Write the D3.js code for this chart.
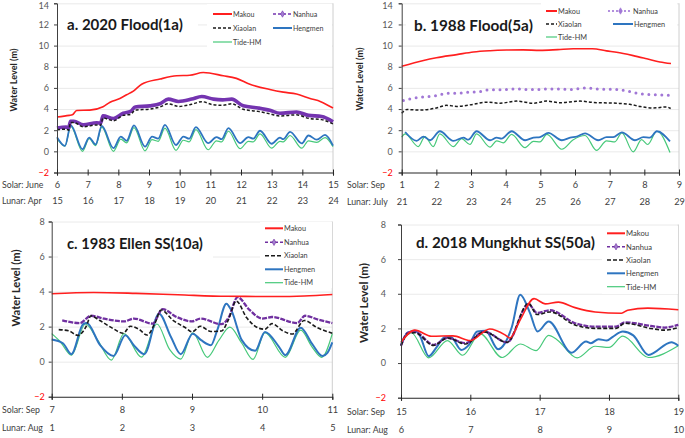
<!DOCTYPE html>
<html><head><meta charset="utf-8">
<script src="https://cdn.jsdelivr.net/npm/d3@7"></script>
<style>body{margin:0;background:#fff}svg{display:block}</style>
</head><body>
<svg id="chart" width="685" height="438"></svg>
<script>
// ---------- DATA ----------
const seriesNames = ["Makou","Nanhua","Xiaolan","Hengmen","Tide-HM"];

const a_solar = [6,7,8,9,10,11,12,13,14,15];
const a_lunar = [15,16,17,18,19,20,21,22,23,24];
const b_solar = [1,2,3,4,5,6,7,8,9];
const b_lunar = [21,22,23,24,25,26,27,28,29];
const c_solar = [7,8,9,10,11];
const c_lunar = [1,2,3,4,5];
const d_solar = [15,16,17,18,19];
const d_lunar = [6,7,8,9,10];
const ab_yticks = [-2,0,2,4,6,8,10,12,14];
const cd_yticks = [-2,0,2,4,6,8];

// Panel a: 2020 Flood — [day, water level m]
const a_makou = [[6.0,3.25],[6.4,3.4],[6.5,3.45],[6.64,3.86],[7.07,3.9],[7.5,4.22],[7.73,4.65],[8.05,5.0],[8.27,5.35],[8.49,5.7],[8.76,6.35],[9.36,6.84],[9.9,7.15],[10.33,7.2],[10.77,7.45],[11.42,7.15],[11.85,6.9],[12.29,6.35],[12.94,5.85],[13.38,5.6],[13.81,5.42],[14.25,5.0],[14.6,4.7],[15.0,4.1]];
const a_nanhua = [[6.0,2.2],[6.3,2.3],[6.38,2.2],[6.44,2.85],[6.55,2.85],[6.86,2.5],[7.3,2.7],[7.42,2.65],[7.5,3.35],[7.84,3.1],[8.16,3.6],[8.4,3.77],[8.55,4.2],[9.03,4.3],[9.36,4.5],[9.63,4.94],[9.96,4.72],[10.39,4.94],[10.72,5.19],[11.1,4.94],[11.4,4.87],[11.7,4.94],[12.07,4.31],[12.56,4.1],[12.94,3.88],[13.27,3.6],[13.81,3.72],[14.2,3.4],[14.63,3.3],[15.0,2.8]];
const a_xiaolan = [[6.0,2.05],[6.3,2.1],[6.38,2.0],[6.44,2.72],[6.55,2.72],[6.86,2.32],[7.3,2.5],[7.42,2.45],[7.5,3.15],[7.84,2.9],[8.16,3.4],[8.4,3.5],[8.55,3.9],[9.03,4.0],[9.36,4.2],[9.63,4.5],[9.96,4.25],[10.39,4.45],[10.72,4.7],[11.1,4.4],[11.4,4.35],[11.7,4.5],[12.07,3.98],[12.56,3.78],[12.94,3.55],[13.27,3.35],[13.81,3.45],[14.2,3.12],[14.63,3.0],[15.0,2.6]];
const a_hengmen = [[6.0,1.34],[6.26,0.52],[6.45,2.45],[6.83,0.2],[7.05,1.3],[7.26,0.65],[7.46,2.4],[7.84,0.3],[8.08,1.4],[8.27,1.0],[8.51,2.45],[8.87,0.45],[9.1,1.4],[9.3,1.2],[9.52,2.5],[9.88,0.6],[10.12,1.4],[10.31,1.2],[10.53,2.3],[10.93,0.78],[11.2,1.35],[11.37,1.15],[11.59,2.2],[11.97,0.78],[12.24,1.35],[12.4,1.2],[12.62,1.95],[13.0,0.72],[13.27,1.3],[13.38,1.15],[13.6,1.85],[13.98,0.75],[14.2,1.5],[14.47,1.1],[14.74,1.55],[15.0,0.55]];
const a_tide = [[6.0,1.2],[6.26,0.5],[6.45,2.35],[6.83,0.0],[7.05,1.2],[7.26,0.55],[7.46,2.3],[7.84,0.0],[8.08,1.15],[8.27,0.8],[8.51,2.25],[8.87,0.05],[9.1,1.1],[9.3,0.95],[9.52,2.2],[9.88,0.1],[10.12,1.05],[10.31,0.9],[10.53,2.05],[10.93,0.15],[11.2,1.0],[11.37,0.9],[11.59,1.9],[11.97,0.25],[12.24,0.95],[12.4,0.9],[12.62,1.65],[13.0,0.3],[13.27,0.95],[13.38,0.9],[13.6,1.5],[13.98,0.3],[14.2,1.0],[14.47,0.85],[14.74,1.3],[15.0,0.45]];

// Panel b: 1988 Flood
const b_makou = [[1.0,8.05],[1.63,8.6],[2.0,8.85],[2.59,9.15],[3.07,9.4],[3.55,9.52],[4.03,9.58],[4.5,9.6],[4.99,9.55],[5.5,9.62],[5.95,9.7],[6.5,9.7],[6.91,9.5],[7.39,9.25],[7.68,9.05],[8.07,8.75],[8.45,8.45],[8.77,8.3]];
const b_nanhua = [[1.05,4.8],[1.3,5.0],[1.63,5.15],[2.06,5.3],[2.3,5.5],[2.59,5.5],[2.97,5.6],[3.25,5.65],[3.45,5.8],[4.03,5.85],[4.32,5.92],[4.6,5.85],[4.9,5.85],[5.2,5.9],[5.5,5.9],[5.86,5.85],[6.34,6.0],[6.7,5.88],[7.2,5.85],[7.5,5.7],[7.87,5.45],[8.3,5.35],[8.7,5.3]];
const b_xiaolan = [[1.0,3.6],[1.15,3.95],[1.53,3.9],[2.0,4.1],[2.3,4.35],[2.59,4.25],[3.07,4.45],[3.45,4.65],[3.84,4.55],[4.32,4.75],[4.8,4.55],[5.18,4.75],[5.56,4.6],[6.14,4.75],[6.53,4.62],[7.2,4.55],[7.58,4.45],[7.87,4.25],[8.26,4.1],[8.64,4.2],[8.76,4.05]];
const b_hengmen = [[1.1,1.83],[1.43,1.0],[1.63,1.4],[1.82,1.05],[2.1,1.9],[2.49,1.0],[2.78,1.3],[2.92,1.1],[3.16,1.9],[3.55,1.05],[3.74,1.3],[3.88,1.2],[4.17,1.9],[4.56,1.05],[4.8,1.3],[4.99,1.35],[5.23,1.75],[5.62,1.05],[5.86,1.3],[6.05,1.4],[6.29,1.7],[6.67,1.05],[6.91,1.35],[7.1,1.35],[7.35,1.8],[7.73,1.05],[7.97,1.35],[8.16,1.3],[8.36,1.9],[8.74,0.95]];
const b_tide = [[1.0,1.35],[1.1,1.65],[1.48,0.45],[1.67,1.4],[1.91,0.45],[2.1,1.65],[2.49,0.45],[2.73,1.2],[2.97,0.65],[3.16,1.65],[3.55,0.4],[3.74,1.0],[3.93,0.8],[4.17,1.6],[4.56,0.35],[4.8,0.95],[4.99,0.9],[5.19,1.6],[5.62,0.2],[5.95,1.1],[6.29,1.5],[6.62,0.1],[6.91,1.0],[7.15,0.9],[7.35,1.75],[7.68,-0.05],[7.92,1.1],[8.1,0.65],[8.36,1.9],[8.74,-0.1]];

// Panel c: 1983 Ellen SS
const c_makou = [[7.0,3.88],[7.6,3.95],[8.2,3.9],[8.8,3.82],[9.5,3.73],[10.2,3.72],[10.6,3.75],[11.0,3.83]];
const c_nanhua = [[7.15,2.36],[7.4,2.2],[7.56,2.62],[7.75,2.45],[8.03,2.3],[8.17,2.46],[8.44,2.17],[8.58,3.0],[8.78,2.55],[9.0,2.3],[9.12,2.46],[9.42,2.14],[9.52,2.5],[9.65,3.68],[9.82,2.95],[10.0,2.46],[10.14,2.55],[10.5,2.2],[10.61,2.62],[10.8,2.4],[11.0,2.2]];
const c_xiaolan = [[7.1,1.83],[7.25,1.75],[7.37,1.5],[7.49,2.0],[7.56,2.62],[7.68,2.36],[7.87,1.9],[8.02,1.62],[8.12,2.02],[8.25,1.83],[8.36,1.52],[8.47,2.18],[8.56,2.95],[8.73,2.36],[8.92,1.9],[9.0,1.7],[9.12,2.02],[9.27,1.72],[9.42,1.75],[9.52,2.4],[9.63,3.46],[9.78,2.5],[9.96,1.9],[10.04,1.85],[10.14,2.17],[10.3,1.75],[10.43,1.58],[10.6,2.35],[10.78,1.95],[11.0,1.62]];
const c_hengmen = [[7.0,1.26],[7.16,1.05],[7.28,0.43],[7.45,2.15],[7.5,2.2],[7.69,0.94],[7.88,0.32],[8.05,1.51],[8.17,0.94],[8.32,0.43],[8.53,2.74],[8.7,1.41],[8.84,0.43],[9.01,1.6],[9.13,1.23],[9.27,0.94],[9.36,1.8],[9.49,3.31],[9.56,2.93],[9.71,1.23],[9.9,0.62],[10.04,1.7],[10.24,0.85],[10.33,0.37],[10.55,1.94],[10.71,1.03],[10.86,0.32],[10.93,0.5],[11.0,1.1]];
const c_tide = [[7.0,1.6],[7.12,1.15],[7.28,0.37],[7.48,2.15],[7.66,1.2],[7.85,0.09],[8.03,1.6],[8.28,0.26],[8.5,2.15],[8.68,0.7],[8.84,0.15],[9.01,1.65],[9.22,0.25],[9.38,1.2],[9.54,1.97],[9.71,1.05],[9.87,0.13],[10.04,1.65],[10.33,0.25],[10.55,1.8],[10.71,0.85],[10.85,0.25],[11.0,1.6]];

// Panel d: 2018 Mungkhut SS
const d_makou = [[15.0,1.2],[15.2,1.9],[15.44,1.55],[15.75,1.57],[16.0,1.3],[16.28,1.97],[16.5,1.63],[16.57,1.45],[16.72,2.5],[16.92,3.72],[17.08,3.42],[17.27,3.52],[17.51,3.2],[17.8,2.95],[18.18,2.88],[18.27,3.05],[18.56,3.17],[19.0,3.08]];
const d_nanhua = [[15.0,1.0],[15.1,1.76],[15.2,1.8],[15.47,1.05],[15.67,1.45],[15.93,1.15],[16.2,1.82],[16.53,1.2],[16.84,3.4],[16.96,2.9],[17.15,3.05],[17.51,2.3],[17.8,2.1],[18.1,2.1],[18.23,2.35],[18.6,2.15],[18.8,2.05],[19.0,2.2]];
const d_xiaolan = [[15.0,1.0],[15.1,1.7],[15.2,1.75],[15.47,1.02],[15.67,1.45],[15.93,1.1],[16.2,1.8],[16.53,1.2],[16.84,3.45],[16.96,2.8],[17.15,2.95],[17.51,2.2],[17.8,2.0],[18.1,2.0],[18.23,2.3],[18.6,2.0],[18.8,1.9],[19.0,2.05]];
const d_hengmen = [[15.0,1.05],[15.1,1.76],[15.2,1.86],[15.27,1.6],[15.4,0.4],[15.52,0.95],[15.63,1.49],[15.72,1.5],[15.87,0.76],[15.98,1.05],[16.1,1.82],[16.22,1.86],[16.4,0.8],[16.5,1.15],[16.6,2.1],[16.72,3.95],[16.86,2.9],[16.97,1.82],[17.13,2.4],[17.46,0.6],[17.67,1.24],[17.74,1.15],[17.85,1.38],[17.97,1.3],[18.05,1.5],[18.2,1.82],[18.35,1.6],[18.57,0.47],[18.9,1.2],[19.0,1.0]];
const d_tide = [[15.0,1.15],[15.15,1.75],[15.4,0.3],[15.67,1.3],[15.89,0.45],[16.14,1.7],[16.46,0.32],[16.72,1.1],[16.95,0.72],[17.13,1.6],[17.25,1.35],[17.54,0.3],[17.8,0.97],[18.0,0.9],[18.2,1.55],[18.57,0.32],[19.0,1.0]];

// ---------- LAYOUT / STYLE ----------
const FONT = "Lato, 'Open Sans', sans-serif";
const svg = d3.select("#chart");

function fitSize(str, weight, targetW){
  const t = svg.append("text").attr("font-family",FONT).attr("font-weight",weight).attr("font-size",100).text(str);
  const w = t.node().getComputedTextLength(); t.remove();
  return 100*targetW/w;
}
const fsTick = fitSize("10","normal",10.5);
const fsRow = fitSize("Solar: Sep","normal",38);

const panels = [
 {L:57, R:333, T:3.3, B:172.5, xd:[6,15], yd:[-2,14], yt:ab_yticks, solar:a_solar, lunar:a_lunar,
  solarName:"Solar: June", lunarName:"Lunar: Apr", rowX:2, solarY:188, lunarY:204, tickPad:5,
  title:"a. 2020 Flood(1a)", tX:67, tY:30, tW:116, tBox:[58,8,140,30],
  yl:{x:13,y:80,w:63}, nanhua:"a",
  data:[a_makou,a_nanhua,a_xiaolan,a_hengmen,a_tide],
  leg:{box:[207,4,125,46], fs:21.5, items:[[213,14,19],[273,14,19],[213,28,19],[273,28,19],[213,42,19]]}},
 {L:401.7, R:679, T:3.3, B:172.5, xd:[1,9], yd:[-2,14], yt:ab_yticks, solar:b_solar, lunar:b_lunar,
  solarName:"Solar: Sep", lunarName:"Lunar: July", rowX:347, solarY:188, lunarY:205, tickPad:6,
  title:"b. 1988 Flood(5a)", tX:414, tY:31, tW:119, tBox:[406,8,140,31],
  yl:{x:359,y:79,w:63}, nanhua:"b",
  data:[b_makou,b_nanhua,b_xiaolan,b_hengmen,b_tide],
  leg:{box:[541,2,136,42], fs:22, items:[[546,11,11],[609,11,23],[546,24,11],[613,24,20],[546,37,11]]}},
 {L:51.7, R:332.3, T:221.5, B:396.7, xd:[7,11], yd:[-2,8], yt:cd_yticks, solar:c_solar, lunar:c_lunar,
  solarName:"Solar: Sep", lunarName:"Lunar: Aug", rowX:2, solarY:413, lunarY:431, tickPad:4,
  title:"c. 1983 Ellen SS(10a)", tX:67, tY:249, tW:136, tBox:[58,230,155,30],
  yl:{x:15,y:288,w:77}, nanhua:"c",
  data:[c_makou,c_nanhua,c_xiaolan,c_hengmen,c_tide],
  leg:{box:[260,222,72,66], fs:22, items:[[265,228.3,18],[265,242.3,18],[265,255.7,18],[265,269.3,18],[265,282.7,18]]}},
 {L:401, R:678.3, T:224.5, B:397.7, xd:[15,19], yd:[-2,8], yt:cd_yticks, solar:d_solar, lunar:d_lunar,
  solarName:"Solar: Sep", lunarName:"Lunar: Aug", rowX:347, solarY:415, lunarY:433, tickPad:12,
  title:"d. 2018 Mungkhut SS(50a)", tX:416, tY:248, tW:179, tBox:[408,229,197,30],
  yl:{x:363,y:303,w:80}, nanhua:"d",
  data:[d_makou,d_nanhua,d_xiaolan,d_hengmen,d_tide],
  leg:{box:[602,226,76,68], fs:23, items:[[607,233.3,18],[607,246.7,18],[607,260,18],[607,273.3,18],[607,286.7,18]]}}
];

const baseStyle = {
  "Makou":   {stroke:"#ff1f1f", w:1.6},
  "Nanhua":  {stroke:"#7030a0", w:2.3, dash:"5,1.2"},
  "Xiaolan": {stroke:"#1a1a1a", w:1.5, dash:"3,2"},
  "Hengmen": {stroke:"#2e75c0", w:1.8},
  "Tide-HM": {stroke:"#47c97a", w:1.2}
};
function styleFor(name, p){
  const s = Object.assign({}, baseStyle[name]);
  if(name==="Nanhua"){
    if(p.nanhua==="a"){ s.w=3.6; s.dash=null; s.stroke="#7434b0"; }
    if(p.nanhua==="b"){ s.w=3; s.dash="0,6.5"; s.cap="round"; s.stroke="#a177d6"; }
  }
  if(name==="Xiaolan" && (p.nanhua==="c"||p.nanhua==="d")){ s.dash="4,2"; s.w=1.6; }
  if(name==="Hengmen" && (p.nanhua==="c"||p.nanhua==="d")){ s.w=2; }
  return s;
}
const drawOrder = [4,3,1,2,0];

panels.forEach(p=>{
  const x = d3.scaleLinear().domain(p.xd).range([p.L,p.R]);
  const y = d3.scaleLinear().domain(p.yd).range([p.B,p.T]);
  const g = svg.append("g");

  // grid
  g.append("g").attr("transform",`translate(${p.L},0)`)
    .call(d3.axisLeft(y).tickValues(p.yt.filter(v=>v!==p.yd[0])).tickSize(-(p.R-p.L)).tickFormat(""))
    .call(a=>a.select(".domain").remove())
    .call(a=>a.selectAll("line").attr("stroke","#e4e4e4").attr("stroke-width",0.8));
  // right border
  g.append("line").attr("x1",p.R).attr("x2",p.R).attr("y1",p.T).attr("y2",p.B).attr("stroke","#c8c8c8").attr("stroke-width",0.9);

  // title & legend backgrounds
  g.append("rect").attr("x",p.tBox[0]).attr("y",p.tBox[1]).attr("width",p.tBox[2]).attr("height",p.tBox[3]).attr("fill","#fff");
  g.append("rect").attr("x",p.leg.box[0]).attr("y",p.leg.box[1]).attr("width",p.leg.box[2]).attr("height",p.leg.box[3]).attr("fill","#fff");

  // series
  const line = d3.line().x(d=>x(d[0])).y(d=>y(d[1])).curve(d3.curveMonotoneX);
  drawOrder.forEach(i=>{
    const s = styleFor(seriesNames[i], p);
    g.append("path").datum(p.data[i]).attr("d",line).attr("fill","none")
      .attr("stroke",s.stroke).attr("stroke-width",s.w)
      .attr("stroke-dasharray",s.dash||null).attr("stroke-linecap",s.cap||"butt")
      .attr("stroke-linejoin","round");
  });

  // y axis
  const ya = g.append("g").attr("transform",`translate(${p.L},0)`)
    .call(d3.axisLeft(y).tickValues(p.yt).tickSize(3).tickPadding(p.tickPad));
  ya.select(".domain").attr("stroke","#404040").attr("stroke-width",1);
  ya.selectAll("line").attr("stroke","#404040");
  ya.selectAll("text").attr("font-family",FONT).attr("font-size",fsTick).attr("fill",d=>d<0?"#ff0000":"#595959")
    .attr("dy",d=>d===p.yd[1] && p.T<10 ? "0.62em" : "0.32em");

  // x axis line + crossing ticks
  const xa = g.append("g").attr("transform",`translate(0,${p.B})`)
    .call(d3.axisBottom(x).tickValues(p.solar).tickSize(3).tickFormat(""));
  xa.select(".domain").attr("stroke","#262626").attr("stroke-width",1.1);
  xa.selectAll(".tick line").attr("y1",-3).attr("stroke","#262626");

  // solar & lunar label rows
  [[p.solar,p.solarY,p.solarName],[p.lunar,p.lunarY,p.lunarName]].forEach(([labs,yy,name])=>{
    const r = g.append("g").attr("transform",`translate(0,${yy})`)
      .call(d3.axisBottom(x).tickValues(p.solar).tickSize(0).tickPadding(0).tickFormat((d,i)=>labs[i]));
    r.select(".domain").remove();
    r.selectAll("text").attr("dy",0).attr("font-family",FONT).attr("font-size",fsTick*1.02).attr("fill","#404040");
    g.append("text").attr("x",p.rowX).attr("y",yy).attr("font-family",FONT).attr("font-size",fsRow)
      .attr("fill","#404040").text(name);
  });

  // title
  g.append("text").attr("x",p.tX).attr("y",p.tY).attr("font-family",FONT).attr("font-weight","bold")
    .attr("font-size",fitSize(p.title,"bold",p.tW)).attr("fill","#1a1a1a").text(p.title);

  // y label
  g.append("text").attr("transform",`translate(${p.yl.x},${p.yl.y}) rotate(-90)`)
    .attr("text-anchor","middle").attr("dominant-baseline","central")
    .attr("font-family",FONT).attr("font-weight","bold").attr("font-size",fitSize("Water Level  (m)","bold",p.yl.w))
    .attr("fill","#262626").text("Water Level  (m)");

  // legend
  const lfs = fitSize("Makou","normal",p.leg.fs);
  seriesNames.forEach((nm,i)=>{
    const [lx,ly,len] = p.leg.items[i];
    const s = styleFor(nm,p);
    const lg = g.append("g");
    let dash = s.dash, w = Math.min(s.w,2.2);
    if(nm==="Nanhua"){ dash = p.nanhua==="b" ? "0,4" : "3,2"; w = p.nanhua==="b"?2.2:1.6; }
    lg.append("line").attr("x1",lx).attr("x2",lx+len).attr("y1",ly).attr("y2",ly)
      .attr("stroke",s.stroke).attr("stroke-width",nm==="Makou"||nm==="Hengmen"?2:w)
      .attr("stroke-dasharray",dash||null).attr("stroke-linecap",s.cap||"butt");
    if(nm==="Nanhua"){
      lg.append("path").attr("d",d3.symbol(d3.symbolDiamond,12)()).attr("transform",`translate(${lx+len/2},${ly})`)
        .attr("fill",p.nanhua==="b"?"#a177d6":"#a47fd0").attr("stroke",s.stroke).attr("stroke-width",0.6);
    }
    lg.append("text").attr("x",lx+len+1).attr("y",ly).attr("dominant-baseline","central")
      .attr("font-family",FONT).attr("font-size",lfs).attr("fill","#404040").text(nm);
  });
});
</script>
</body></html>
